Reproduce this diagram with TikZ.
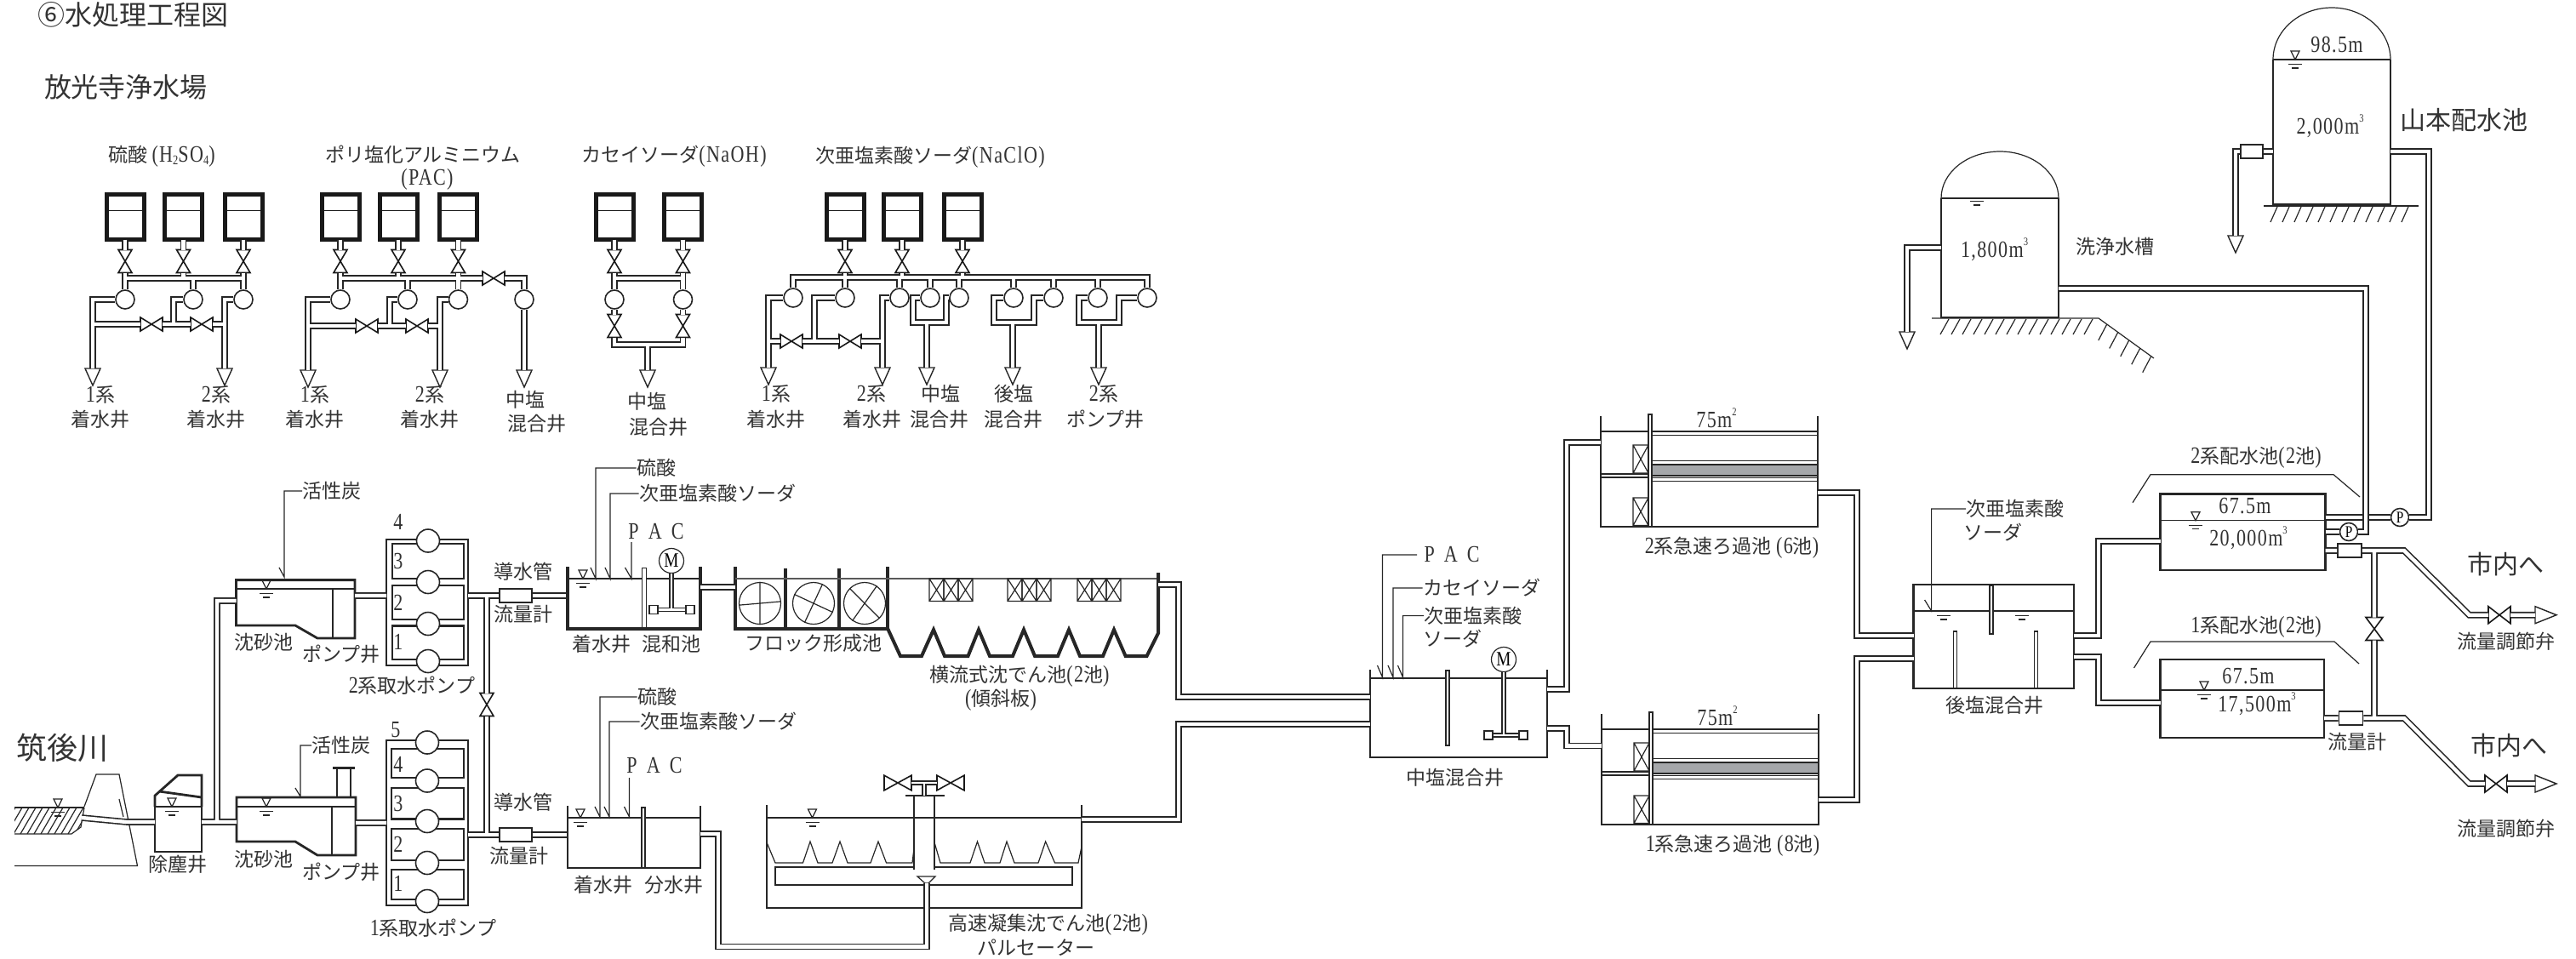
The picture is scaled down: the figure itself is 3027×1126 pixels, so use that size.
\documentclass[tikz,border=0pt]{standalone}
\usepackage{fontspec}
\setmainfont{Noto Sans CJK JP}
\newfontfamily\latf[FakeStretch=0.8,LetterSpace=5,Scale=1.2]{Liberation Serif}
\usetikzlibrary{calc}
\colorlet{ink}{black!85}
\colorlet{txt}{black!80}
\definecolor{bandgray}{RGB}{165,167,170}
\newcommand{\ltn}[1]{{\latf #1}}
\newcommand{\subn}[1]{\raisebox{-.12em}{\fontsize{6.5}{7}\selectfont\latf #1}}
\newcommand{\supn}[1]{\raisebox{.62em}{\fontsize{5.5}{6}\selectfont\latf #1}}
\newcommand{\xcell}[4]{\draw[thinwall] (#1,#2) rectangle (#3,#4) (#1,#2) -- (#3,#4) (#1,#4) -- (#3,#2);}
\tikzset{%
  pipe/.style={draw=ink, double=white, line width=.8pt, double distance=2.2pt},
  pipeb/.style={draw=ink, double=white, line width=1.2pt, double distance=1.8pt},
  shaft/.style={draw=ink, double=white, line width=.6pt, double distance=1.4pt},
  thinwall/.style={draw=ink, line width=.6pt},
  wall/.style={draw=ink, line width=1pt},
  wallm/.style={draw=ink, line width=1.4pt},
  wallb/.style={draw=ink, line width=2pt},
  baffle/.style={draw=ink, fill=white, line width=.6pt},
  chemtank/.style={%
    rectangle, draw=black!90, fill=white, line width=2.5pt, inner sep=0pt, outer sep=0pt,
    minimum width=22pt, minimum height=26.5pt,
    path picture={\draw[line width=.6pt] ([yshift=3.6pt]path picture bounding box.west) -- ([yshift=3.6pt]path picture bounding box.east);},
  },
  pumpc/.style={circle, draw=ink, fill=white, line width=.8pt, minimum size=11pt, inner sep=0pt},
  pumpb/.style={circle, draw=ink, fill=white, line width=.8pt, minimum size=13.5pt, inner sep=0pt},
  motorc/.style={circle, draw=ink, fill=white, line width=.6pt, minimum size=14.5pt, inner sep=0pt, font=\fontsize{10}{10}\selectfont\latf},
  paddle/.style={rectangle, draw=ink, fill=white, line width=.6pt, minimum size=5pt, inner sep=0pt},
  flowbox/.style={rectangle, draw=ink, fill=white, line width=.8pt, minimum width=19pt, minimum height=8pt, inner sep=0pt},
  basin/.style={rectangle, draw=ink, line width=1.2pt, inner sep=0pt, outer sep=0pt},
  lab/.style={font=\fontsize{11.5}{13}\selectfont, inner sep=0pt, text=txt},
  labbig/.style={font=\fontsize{16}{18}\selectfont, inner sep=0pt, text=txt},
  labsite/.style={font=\fontsize{15}{17}\selectfont, inner sep=0pt, text=txt},
  valvev/.pic={
    \draw[line width=.8pt, draw=black!90, fill=white] (-8,-13.5) -- (8,-13.5) -- (-8,13.5) -- (8,13.5) -- cycle;
    \coordinate (-a) at (0,-13.5);
    \coordinate (-b) at (0,13.5);
  },
  valveh/.pic={
    \draw[line width=.8pt, draw=black!90, fill=white] (-13,-8) -- (-13,8) -- (13,-8) -- (13,8) -- cycle;
    \coordinate (-a) at (-13,0);
    \coordinate (-b) at (13,0);
  },
  droparrow/.pic={
    \draw[line width=.7pt, draw=ink, fill=white] (-9,0) -- (9,0) -- (0,20) -- cycle;
    \coordinate (-in) at (0,0);
  },
  sidearrow/.pic={
    \draw[line width=.7pt, draw=ink, fill=white] (0,-10) -- (25,0) -- (0,10) -- cycle;
    \coordinate (-in) at (0,0);
  },
  wlevel/.pic={
    \draw[thinwall] (-8,5.5) -- (8,5.5) (-4,10) -- (4,10);
  },
  wmark/.pic={
    \draw[thinwall] (0,0) -- (-5,-10) -- (5,-10) -- cycle;
    \draw[thinwall] (-8,5.5) -- (8,5.5) (-4,10) -- (4,10);
  },
}
\begin{document}
\begin{tikzpicture}[x=.5pt,y=-.5pt]
  \useasboundingbox (0,0) rectangle (3027,1126);

  \node[labbig] (title) at (157,17) {⑥水処理工程図};
  \node[labbig] (plant) at (148,102) {放光寺浄水場};

  % chemical lines
  \node[lab] (hsa) at (190,184) {硫酸\ \ltn{(H}\subn{2}\ltn{SO}\subn{4}\ltn{)}};
  \node[lab] (hpa) at (497,182) {ポリ塩化アルミニウム};
  \node[lab] (hpb) at (502,211) {\ltn{(PAC)}};
  \node[lab] (hna) at (792,184) {カセイソーダ\ltn{(NaOH)}};
  \node[lab] (hcl) at (1093,185) {次亜塩素酸ソーダ\ltn{(NaClO)}};

  \foreach \n/\x in {sa/147,sb/215.5,sc/286,pa/400,pb/468,pc/538.5,na/722,nb/802.5,ca/993,cb/1060,cc/1131}{
    \node[chemtank] (t\n) at (\x,255) {};
    \pic (v\n) at (\x,307) {valvev};
    \draw[pipe] (t\n) -- (v\n-a);
  }
  \foreach \n/\x in {sa/147,sb/227,sc/286,pa/400,pb/479,pc/538.5,pd/616,na/722,nb/802.5}
    \node[pumpc] (n\n) at (\x,352) {};
  \foreach \n/\x in {ca/932,cb/993,cc/1057,cd/1093,ce/1127,cf/1191,cg/1238,ch/1290,ci/1348}
    \node[pumpc] (n\n) at (\x,350) {};

  % sulfuric acid
  \coordinate (msa) at (0,327);
  \pic (asa) at (109,433) {droparrow};
  \pic (asc) at (264,433) {droparrow};
  \pic (hva) at (178,381) {valveh};
  \pic (hvb) at (237,381) {valveh};
  \draw[pipe] (vsa-b) -- (nsa) (vsc-b) -- (nsc) (nsa |- msa) -- (nsc |- msa)
    (vsb-b) -- (vsb-b |- msa) (nsb |- msa) -- (nsb)
    (nsa.west) -| (asa-in) (nsc.west) -| (asc-in) (nsb.west) -| (204,381)
    (asa-in |- hva-a) -- (hva-a) (hva-b) -- (hvb-a) (hvb-b) -- (asc-in |- hvb-b);
  \node[lab] (lsa1) at (118,464) {\ltn{1}系};
  \node[lab] (lsa2) at (118,493) {着水井};
  \node[lab] (lsc1) at (254,464) {\ltn{2}系};
  \node[lab] (lsc2) at (254,493) {着水井};

  % PAC
  \pic (apa) at (362,435) {droparrow};
  \pic (apc) at (517,435) {droparrow};
  \pic (apd) at (616,435) {droparrow};
  \pic (hvc) at (431,383) {valveh};
  \pic (hvd) at (490,383) {valveh};
  \pic (hve) at (580,327) {valveh};
  \draw[pipe] (vpa-b) -- (npa) (vpc-b) -- (npc) (npa |- msa) -- (hve-a)
    (hve-b) -| (npd.north) (vpb-b) -- (vpb-b |- msa) (npb |- msa) -- (npb)
    (npa.west) -| (apa-in) (npc.west) -| (apc-in) (npb.west) -| (458,383)
    (npd.south) -- (apd-in)
    (apa-in |- hvc-a) -- (hvc-a) (hvc-b) -- (hvd-a) (hvd-b) -- (apc-in |- hvd-b);
  \node[lab] (lpa1) at (370,464) {\ltn{1}系};
  \node[lab] (lpa2) at (370,493) {着水井};
  \node[lab] (lpc1) at (505,464) {\ltn{2}系};
  \node[lab] (lpc2) at (505,493) {着水井};
  \node[lab] (lpd1) at (617,470) {中塩};
  \node[lab] (lpd2) at (631,498) {混合井};

  % caustic soda
  \pic (vla) at (722,383) {valvev};
  \pic (vlb) at (802.5,383) {valvev};
  \pic (ana) at (761,435) {droparrow};
  \draw[pipe] (vna-b) -- (nna) (vnb-b) -- (nnb) (nna |- msa) -- (nnb |- msa)
    (nna) -- (vla-a) (nnb) -- (vlb-a)
    (vla-b) |- (vlb-b |- 0,405) -- (vlb-b) (761,405) -- (ana-in);
  \node[lab] (lna1) at (760,472) {中塩};
  \node[lab] (lna2) at (774,502) {混合井};

  % hypochlorite
  \coordinate (mcl) at (0,326);
  \pic (aca) at (903,432) {droparrow};
  \pic (acc) at (1037,432) {droparrow};
  \pic (hvf) at (930,401) {valveh};
  \pic (hvg) at (999,401) {valveh};
  \draw[pipe] (nca.north) |- (nci |- mcl) -- (nci.north)
    (vca-b) -- (vca-b |- mcl) (vcb-b) -- (vcb-b |- mcl) (vcc-b) -- (vcc-b |- mcl)
    (ncb.north) -- (ncb |- mcl) (ncc.north) -- (ncc |- mcl) (ncd.north) -- (ncd |- mcl)
    (nce.north) -- (nce |- mcl) (ncf.north) -- (ncf |- mcl) (ncg.north) -- (ncg |- mcl)
    (nch.north) -- (nch |- mcl)
    (nca.west) -| (aca-in) (ncc.west) -| (acc-in) (ncb.west) -| (957,401)
    (aca-in |- hvf-a) -- (hvf-a) (hvf-b) -- (hvg-a) (hvg-b) -- (acc-in |- hvg-b);
  \foreach \pa/\pb/\xa/\xb/\xd in {cd/ce/1073/1112/1089,cf/cg/1168/1215/1190,ch/ci/1268/1315/1291}{
    \pic (a\pa) at (\xd,432) {droparrow};
    \draw[pipe] (n\pa.west) -| (\xa,379) -- (\xb,379) |- (n\pb.west) (\xd,379) -- (a\pa-in);
  }
  \node[lab] (lca1) at (912,463) {\ltn{1}系};
  \node[lab] (lca2) at (912,493) {着水井};
  \node[lab] (lcc1) at (1024,463) {\ltn{2}系};
  \node[lab] (lcc2) at (1025,493) {着水井};
  \node[lab] (lcd1) at (1105,463) {中塩};
  \node[lab] (lcd2) at (1104,493) {混合井};
  \node[lab] (lcf1) at (1191,463) {後塩};
  \node[lab] (lcf2) at (1191,493) {混合井};
  \node[lab] (lch1) at (1297,463) {\ltn{2}系};
  \node[lab] (lch2) at (1299,493) {ポンプ井};

  % river and intake
  \node[font=\fontsize{18}{20}\selectfont, inner sep=0pt, text=txt] (river) at (73,879) {筑後川};
  \begin{scope}
    \clip (17,949) -- (99,949) -- (95,972) -- (84,980) -- (17,980) -- cycle;
    \foreach \x in {0,8,...,96}
      \draw[thinwall] (\x,980) -- (\x+18,949);
  \end{scope}
  \draw[wall] (17,949) -- (99,949);
  \draw[thinwall] (17,980) -- (84,980) -- (95,972) -- (99,949);
  \draw[thinwall] (99,948) -- (113,910) -- (140,910) -- (161.5,1017.5) -- (17,1017.5);
  \draw[thinwall] (140,939) -- (145,960);
  \pic at (68,949) {wmark};

  \node[basin, minimum width=27.5pt, minimum height=26.5pt] (dust) at (209.5,974.5) {};
  \draw[wallm] (182,948) -- (182,935) -- (209,911) -- (237,911) -- (237,948);
  \draw[wallm] (187,930) -- (237,937);
  \pic at (202,948) {wmark};
  \node[lab] (ldust) at (209,1016) {除塵井};
  \coordinate (dustin) at (182,966);
  \coordinate (dustout) at (237,966);

  % sand basins
  \draw[wallm] (277.5,681.6) -- (277.5,735) -- (347,735) -- (373,750) -- (417,750) -- (417,681.6) -- cycle;
  \draw[thinwall] (277.5,692) -- (417,692) (391,692) -- (391,750);
  \pic at (313,692) {wmark};
  \node[lab] (lsand2) at (310,755) {沈砂池};
  \node[lab] (lpw2) at (401,769) {ポンプ井};
  \node[lab] (lcarb2) at (390,577) {活性炭};
  \draw[thinwall] (lcarb2.west) -| (334,678) -- ++(-6,-11);
  \coordinate (sand2in) at (277.5,706);
  \coordinate (sand2out) at (417,700);

  \draw[wallm] (278,937) -- (278,989) -- (347,989) -- (373,1005) -- (418,1005) -- (418,937) -- cycle;
  \draw[thinwall] (278,948) -- (418,948) (390,948) -- (390,1005);
  \draw[wall] (396,937) -- (396,902.5) (412,937) -- (412,902.5);
  \draw[wallm] (391,902.5) -- (417,902.5);
  \pic at (313,948) {wmark};
  \node[lab] (lsand1) at (310,1010) {沈砂池};
  \node[lab] (lpw1) at (401,1025) {ポンプ井};
  \node[lab] (lcarb1) at (401,876) {活性炭};
  \draw[thinwall] (lcarb1.west) -| (353,936) -- ++(-6,-10);
  \coordinate (sand1in) at (278,966);
  \coordinate (sand1out) at (418,967);

  % pump banks
  \node[basin, minimum width=48pt, minimum height=74pt] (bank2) at (502,708) {};
  \foreach \ya/\yb/\nr/\yn in {639/680/3/659,688/728/2/708,735.5/775/1/754}{
    \draw[wallm] (461,\ya) rectangle (545,\yb);
    \node[lab] (nrb\nr) at (468,\yn) {\ltn{\nr}};
  }
  \node[lab] (nrb4) at (468,613) {\ltn{4}};
  \foreach \n/\y in {a/635.5,b/684,c/733,d/777}
    \node[pumpb] (pb\n) at (503,\y) {};
  \node[basin, minimum width=48pt, minimum height=97pt] (bank1) at (502,967) {};
  \foreach \ya/\yb/\nr/\yn in {880/914/4/898,926/962.5/3/944,974/1011/2/992,1022/1057/1/1038}{
    \draw[wallm] (460,\ya) rectangle (545,\yb);
    \node[lab] (nra\nr) at (468,\yn) {\ltn{\nr}};
  }
  \node[lab] (nra5) at (465,858) {\ltn{5}};
  \foreach \n/\y in {a/872.5,b/917.5,c/965,d/1014,e/1059}
    \node[pumpb] (pa\n) at (502,\y) {};
  \node[lab] (lbank2) at (484,806) {\ltn{2}系取水ポンプ};
  \node[lab] (lbank1) at (509,1090.5) {\ltn{1}系取水ポンプ};

  \node[flowbox] (fm2) at (606,700) {};
  \node[flowbox] (fm1) at (606,981) {};
  \pic (vlink) at (572,828) {valvev};
  \coordinate (bk2out) at (bank2.east |- fm2);
  \coordinate (bk1out) at (bank1.east |- fm1);
  \coordinate (welA) at (667,700);
  \coordinate (welB) at (668,981);
  \node[lab] (lpipe2) at (615,672) {導水管};
  \node[lab] (lflow2) at (615,722) {流量計};
  \node[lab] (lpipe1) at (615,943) {導水管};
  \node[lab] (lflow1) at (610,1006) {流量計};

  \draw[pipe] (dustout) -- (sand1in) (255,966) |- (sand2in)
    (96,961) -- (149,966) -- (dustin)
    (sand2out) -- (sand2out -| bank2.west) (sand1out) -- (sand1out -| bank1.west);
  \draw[pipeb] (bk2out) -- (fm2) (fm2) -- (welA) (bk1out) -- (fm1) (fm1) -- (welB)
    (bk2out -| vlink-a) -- (vlink-a) (vlink-b) -- (bk1out -| vlink-b);

  % receiving well and mixing basin
  \draw[wallb] (667,666) -- (667,738.5) -- (823,738.5) -- (823,666);
  \draw[thinwall] (667,680) -- (823,680);
  \draw[baffle] (754.5,667.5) rectangle (759.5,738);
  \pic at (685,680) {wmark};
  \node[motorc] (motA) at (789,659) {M};
  \draw[shaft] (motA) -- (789,716.5) (768,716.5) -- (811,716.5);
  \node[paddle] (padA1) at (768,716.5) {};
  \node[paddle] (padA2) at (811,716.5) {};
  \node[lab] (lwelA) at (707,757) {着水井};
  \node[lab] (lmixA) at (789,757) {混和池};
  \node[lab] (sulA) at (771,550) {硫酸};
  \node[lab] (hypA) at (843,580) {次亜塩素酸ソーダ};
  \node[lab] (pacA) at (771,624) {\ltn{P\hspace{.4em}A\hspace{.4em}C}};
  \draw[thinwall] (sulA.west) -| (700,680) -- ++(-6,-13);
  \draw[thinwall] (hypA.west) -| (717,680) -- ++(-6,-13);
  \draw[thinwall] (742,637) -- (742,680) -- ++(-7.5,-13);

  % floc and settling
  \draw[wallb] (864,666) -- (864,738.5) -- (1043,738.5) -- (1043,666);
  \draw[wallb] (922.6,668) -- (922.6,738.5) (986,668) -- (986,738.5);
  \draw[wall, draw=black!65] (864,680) -- (1361,680);
  \node[circle, draw=ink, line width=.6pt, minimum size=24.5pt, inner sep=0pt] (flA) at (893,709) {};
  \node[circle, draw=ink, line width=.6pt, minimum size=24.5pt, inner sep=0pt] (flB) at (956,709) {};
  \node[circle, draw=ink, line width=.6pt, minimum size=24.5pt, inner sep=0pt] (flC) at (1016,709) {};
  \draw[thinwall] (flA.185) -- (flA.5) (flA.90) -- (flA.270);
  \draw[thinwall] (flB.155) -- (flB.335) (flB.65) -- (flB.245);
  \draw[thinwall] (flC.135) -- (flC.315) (flC.55) -- (flC.235);
  \node[lab] (lfloc) at (956,756) {フロック形成池};
  \draw[wallb] (1043,738.5) -- (1058,771) -- (1083,771) -- (1097,740) -- (1110,771) -- (1137.5,771) -- (1150,740)
    -- (1163,771) -- (1190,771) -- (1203,740) -- (1216,771) -- (1243,771) -- (1256,740) -- (1269,771)
    -- (1296,771) -- (1309,740) -- (1322.6,771) -- (1347.5,771) -- (1361,744) -- (1361,673);
  \foreach \x in {1092,1184,1266}{
    \foreach \k in {0,17,34}{
      \xcell{\x+\k}{680}{\x+\k+17}{706.5}
    }
  }
  \node[lab] (lsed1) at (1198,795) {横流式沈でん池\ltn{(2}池\ltn{)}};
  \node[lab] (lsed2) at (1176,822.5) {\ltn{(}傾斜板\ltn{)}};

  % lower well
  \draw[wall] (667,946.6) -- (667,1020) -- (822.6,1020) -- (822.6,946.6);
  \draw[thinwall] (667,961) -- (822.6,961);
  \draw[baffle] (754,949) rectangle (758,1020);
  \pic at (682,961) {wmark};
  \node[lab] (lwelB) at (709,1040) {着水井};
  \node[lab] (ldivB) at (792,1040) {分水井};
  \node[lab] (sulB) at (772,819) {硫酸};
  \node[lab] (hypB) at (844,848) {次亜塩素酸ソーダ};
  \node[lab] (pacB) at (769,899) {\ltn{P\hspace{.4em}A\hspace{.4em}C}};
  \draw[thinwall] (sulB.west) -| (705,960) -- ++(-6,-12);
  \draw[thinwall] (hypB.west) -| (716,960) -- ++(-6,-12);
  \draw[thinwall] (739.5,914) -- (739.5,960) -- ++(-6,-12);

  % pulsator
  \draw[wall] (901,946) -- (901,1067) -- (1271,1067) -- (1271,946);
  \draw[thinwall] (901,961) -- (1271,961);
  \pic at (954.5,961) {wmark};
  \draw[thinwall] (901,990) -- (911,1014) -- (943.5,1014) -- (952,989) -- (961,1014) -- (978,1014) -- (987,989)
    -- (996,1014) -- (1023,1014) -- (1032,989) -- (1041.5,1014) -- (1072,1014) -- (1074,997);
  \draw[thinwall] (1098,990) -- (1105,1014) -- (1140,1014) -- (1148.5,989) -- (1157,1014) -- (1175,1014) -- (1183,989)
    -- (1192,1014) -- (1220,1014) -- (1228.6,989) -- (1239.5,1014) -- (1267,1014) -- (1271,995);
  \draw[wall] (1074,1018.6) -- (911,1018.6) -- (911,1040) -- (1260,1040) -- (1260,1018.6) -- (1098,1018.6);
  \draw[wall] (1074,935) -- (1074,1022) (1098,935) -- (1098,1022);
  \draw[wallm] (1064,935) -- (1110,935);
  \pic[xscale=1.23,yscale=1.1] (vpla) at (1055,920) {valveh};
  \pic[xscale=1.23,yscale=1.1] (vplb) at (1117,920) {valveh};
  \draw[shaft] (vpla-b) -- (vplb-a) (1086,920) -- (1086,935);
  \draw[draw=ink, fill=white, line width=.6pt] (1078,1030) -- (1099,1030) -- (1091,1038) -- (1087,1038) -- cycle;
  \node[lab] (lpul1) at (1232,1087) {高速凝集沈でん池\ltn{(2}池\ltn{)}};
  \node[lab] (lpul2) at (1217,1114) {パルセーター};
  \draw[pipe] (822.6,980) -- (844,980) -- (844,1112.5) -- (1089,1112.5) -- (1089,1038);

  % intermediate mixing well
  \draw[wall] (1610,787) -- (1610,890) -- (1818,890) -- (1818,787);
  \draw[wall] (1610,890) -- (1818,890);
  \draw[thinwall] (1610,797) -- (1818,797);
  \draw[baffle] (1699,788) rectangle (1703,876);
  \node[motorc] (motC) at (1767,775) {M};
  \draw[shaft] (motC) -- (1767,864) (1749,864) -- (1790,864);
  \node[paddle] (padC1) at (1749,864) {};
  \node[paddle] (padC2) at (1790,864) {};
  \node[lab] (lmid) at (1710,914) {中塩混合井};
  \node[lab] (pacC) at (1706,651) {\ltn{P\hspace{.4em}A\hspace{.4em}C}};
  \node[lab] (naC) at (1741,691) {カセイソーダ};
  \node[lab] (hypC1) at (1731,723.6) {次亜塩素酸};
  \node[lab] (hypC2) at (1707,751) {ソーダ};
  \draw[thinwall] (1665,652) -| (1624.5,796) -- ++(-6,-14);
  \draw[thinwall] (naC.west) -| (1637,796) -- ++(-6,-14);
  \draw[thinwall] (hypC1.west) -| (1648.5,796) -- ++(-6,-14);

  \coordinate (sedout) at (1361,687);
  \coordinate (pulout) at (1271,963);
  \coordinate (midin2) at (1610,819);
  \coordinate (midin1) at (1610,851);
  \coordinate (midout2) at (1818,810);
  \coordinate (midout1) at (1818,856);
  \draw[pipe] (823,690) -- (864,690)
    (sedout) -- (1385,687) |- (midin2)
    (pulout) -- (1385,963) |- (midin1);

  % rapid filters
  \foreach \n/\dy/\dx/\txt in {b/0/0/\ltn{2}系急速ろ過池\ \ltn{(6}池\ltn{)},a/350/1/\ltn{1}系急速ろ過池\ \ltn{(8}池\ltn{)}}{
    \begin{scope}[shift={(\dx,\dy)}]
      \draw[wall] (1881,489) -- (1881,619) -- (2136,619) -- (2136,489);
      \draw[wall] (1881,619) -- (2136,619);
      \draw[thinwall] (1881,507) -- (1937,507) (1941,507) -- (2136,507) (1941,511.4) -- (2136,511.4);
      \draw[thinwall] (1941,541.4) -- (2136,541.4);
      \draw[thinwall, fill=bandgray] (1941,546) rectangle (2136,559);
      \draw[thinwall] (1941,561.4) -- (2136,561.4) (1941,565.7) -- (2136,565.7);
      \draw[thinwall] (1881,557) -- (1937,557) (1881,561) -- (1937,561);
      \xcell{1919}{523}{1937}{556}
      \xcell{1919}{585}{1937}{617.5}
      \draw[baffle] (1937,487) rectangle (1941,619);
      \node[lab] (fa\n) at (2017,491) {\ltn{75m}\supn{2}};
      \node[lab] (fl\n) at (2035,643.6) {\txt};
    \end{scope}
  }
  \coordinate (f2in) at (1881,520);
  \coordinate (f1in) at (1882,876.5);
  \coordinate (f2out) at (2136,579);
  \coordinate (f1out) at (2137,940);
  \draw[pipe] (midout2) -- (1841,810) |- (f2in)
    (midout1) -- (1841,856) |- (f1in);

  % post mixing well
  \node[basin, minimum width=94.25pt, minimum height=61pt] (post) at (2342.75,748) {};
  \draw[thinwall] (2248.5,718) -- (2437,718);
  \draw[baffle] (2338,688) rectangle (2342,745);
  \draw[baffle] (2295.5,742) rectangle (2299.5,809);
  \draw[baffle] (2390.5,742) rectangle (2394.5,809);
  \pic at (2284,718) {wlevel};
  \pic at (2375.6,718) {wlevel};
  \node[lab] (lpost) at (2343.5,829) {後塩混合井};
  \node[lab] (hypD1) at (2368,598) {次亜塩素酸};
  \node[lab] (hypD2) at (2342,626) {ソーダ};
  \draw[thinwall] (hypD1.west) -| (2269.6,718) -- ++(-8,-13);
  \draw[pipe] (f2out) -- (2182,579) |- (post.west |- 0,747)
    (f1out) -- (2182,940) |- (post.west |- 0,774);

  % distribution basins
  \node[basin, minimum width=97pt, minimum height=44.7pt] (dist2) at (2635.6,625.3) {};
  \draw[thinwall] (2538.6,611.7) -- (2732.7,611.7);
  \pic at (2580,611.7) {wmark};
  \node[lab] (lvl2) at (2638,595) {\ltn{67.5m}};
  \node[lab] (vol2) at (2642,632) {\ltn{20,000m}\supn{3}};
  \draw[thinwall] (2506,590.7) -- (2527,557.7) -- (2742,557.7) -- (2773,584);
  \node[lab] (ldist2) at (2651,537.5) {\ltn{2}系配水池\ltn{(2}池\ltn{)}};

  \node[basin, minimum width=96.2pt, minimum height=45.9pt] (dist1) at (2634.8,820.8) {};
  \draw[thinwall] (2538.6,811) -- (2731,811);
  \pic at (2590,811) {wmark};
  \node[lab] (lvl1) at (2642,795) {\ltn{67.5m}};
  \node[lab] (vol1) at (2652,827) {\ltn{17,500m}\supn{3}};
  \draw[thinwall] (2507.5,785) -- (2527,754) -- (2743,754) -- (2772,780);
  \node[lab] (ldist1) at (2651,737) {\ltn{1}系配水池\ltn{(2}池\ltn{)}};
  \node[lab] (lflow3) at (2770,872) {流量計};
  \draw[pipe] (post.east |- 0,747) -- (2466,747) |- (dist2.west |- 0,636)
    (post.east |- 0,772) -- (2466,772) |- (dist1.west |- 0,826);

  % elevated tanks
  \draw[wallm] (2671,70) -- (2671,240) -- (2809,240) -- (2809,70);
  \draw[thinwall] (2671,70) .. controls (2671,36.3) and (2702,9) .. (2740,9) .. controls (2778,9) and (2809,36.3) .. (2809,70);
  \draw[thinwall] (2671,70) -- (2809,70);
  \pic at (2697,70) {wmark};
  \node[lab] (lvl3) at (2746,53) {\ltn{98.5m}};
  \node[lab] (vol3) at (2738,148) {\ltn{2,000m}\supn{3}};
  \node[labsite] (lyama) at (2895,141) {山本配水池};
  \draw[thinwall] (2660,242) -- (2842,242);
  \foreach \x in {2676,2690,...,2830}
    \draw[thinwall] (\x,243) -- ++(-8,18);

  \draw[wallm] (2281,233) -- (2281,373) -- (2419,373) -- (2419,233);
  \draw[thinwall] (2281,233) .. controls (2281,202.6) and (2312,178) .. (2350,178) .. controls (2388,178) and (2419,202.6) .. (2419,233);
  \draw[thinwall] (2281,233) -- (2419,233);
  \pic at (2323,231) {wlevel};
  \node[lab] (vol4) at (2343.5,293) {\ltn{1,800m}\supn{3}};
  \node[lab] (lwash) at (2485,290) {洗浄水槽};
  \draw[thinwall] (2270,374) -- (2466,374) -- (2531,421);
  \foreach \x in {2290,2303,...,2460}
    \draw[thinwall] (\x,375) -- ++(-10,18);
  \foreach \k in {.15,.35,.55,.75,.95}
    \draw[thinwall] ($(2466,374)!\k!(2531,421)$) -- ++(-10,19);

  % outgoing pipework
  \node[pumpc, minimum size=10.5pt, font=\fontsize{8}{8}\selectfont\latf] (pmA) at (2820,608) {P};
  \node[pumpc, minimum size=10.5pt, font=\fontsize{8}{8}\selectfont\latf] (pmB) at (2760,625) {P};
  \node[flowbox, minimum width=14pt] (fmD2) at (2761,647) {};
  \node[flowbox, minimum width=14pt] (fmD1) at (2762.5,844) {};
  \node[flowbox, minimum width=13pt] (fmY) at (2646,178) {};
  \pic[yscale=1.25] (vcity2) at (2937,722.7) {valveh};
  \pic[yscale=1.25] (vcity1) at (2933,921) {valveh};
  \pic[xscale=1.25] (vlinkD) at (2790,739) {valvev};
  \pic (acity2) at (2979,722.7) {sidearrow};
  \pic (acity1) at (2979,921) {sidearrow};
  \pic (ayama) at (2627,277) {droparrow};
  \pic (awash) at (2241,390) {droparrow};
  \draw[pipe] (dist2.east |- pmA) -- (pmA) (pmA) -- (2854,608) |- (2809,178);
  \draw[pipe] (dist2.east |- pmB) -- (pmB) (pmB) -- (2780,625) |- (2419,339);
  \draw[pipe] (fmY) -- (2671,178) (fmY.west) -| (ayama-in);
  \draw[pipe] (2281,291) -| (awash-in);
  \draw[pipe] (dist2.east |- fmD2) -- (fmD2) (fmD2) -- (2825,647) -- (2901.5,722.7) -- (vcity2-a)
    (vcity2-b) -- (acity2-in)
    (2790,647) -- (vlinkD-a) (vlinkD-b) -- (2790,844)
    (dist1.east |- fmD1) -- (fmD1) (fmD1) -- (2825,844) -- (2901.5,921) -- (vcity1-a)
    (vcity1-b) -- (acity1-in);
  \node[labsite] (lcity2) at (2944,663) {市内へ};
  \node[lab] (lvalve2) at (2945,754) {流量調節弁};
  \node[labsite] (lcity1) at (2948,876) {市内へ};
  \node[lab] (lvalve1) at (2945,974) {流量調節弁};
\end{tikzpicture}
\end{document}
